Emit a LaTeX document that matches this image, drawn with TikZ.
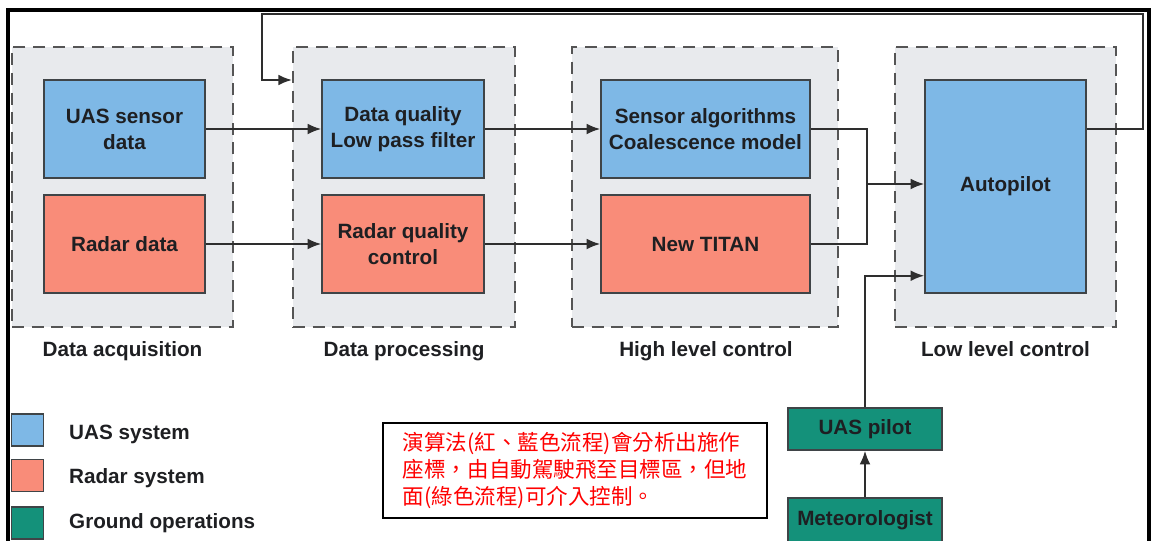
\documentclass[tikz,border=0pt]{standalone}
\usepackage{fontspec}
\setmainfont{Liberation Sans}
\newfontfamily\cjk{Noto Sans CJK TC}
\usetikzlibrary{positioning, arrows.meta}

\definecolor{uasblue}{HTML}{7EB8E6}
\definecolor{radarred}{HTML}{F98C79}
\definecolor{groundgreen}{HTML}{14917A}
\definecolor{grpgray}{HTML}{E8EAED}
\definecolor{grpline}{HTML}{555555}
\definecolor{boxline}{HTML}{3F4447}
\definecolor{wireline}{HTML}{2E2E2E}
\definecolor{txt}{HTML}{1E1F22}

\tikzset{
  grp/.style={draw=grpline, fill=grpgray, line width=1.4pt, dash pattern=on 8.5pt off 5.5pt,
    minimum height=7cm, inner sep=0pt},
  grplabel/.style={anchor=base},
  box/.style={draw=boxline, line width=1pt, inner sep=0pt, minimum height=2.45cm,
    align=center, text=txt},
  leg/.style={draw=boxline, line width=1pt, minimum size=0.8cm, inner sep=0pt},
  wire/.style={draw=wireline, line width=1.4pt},
  arr/.style={wire, -{Latex[length=0.34cm, width=0.27cm]}},
}

\begin{document}
\begin{tikzpicture}[x=0.025cm, y=-0.025cm, font=\fontsize{14.7}{18.5}\selectfont\bfseries, text=txt]
        \clip (0,0) rectangle (1152,540);
        \draw[line width=2.2pt] (8,10) rectangle (1149,600);

        % stages
        \node[grp, minimum width=5.525cm] (acq) at (122.5,187) {};
        \node[grp, minimum width=5.55cm] (proc) at (404,187) {};
        \node[grp, minimum width=6.65cm] (high) at (705,187) {};
        \node[grp, minimum width=5.525cm] (low) at (1005.5,187) {};
        \node[grplabel] (lacq) at (122.5,356) {Data acquisition};
        \node[grplabel] (lproc) at (404,356) {Data processing};
        \node[grplabel] (lhigh) at (706,356) {High level control};
        \node[grplabel] (llow) at (1005.5,356) {Low level control};

        \node[box, fill=uasblue, minimum width=4.025cm] (uas) at (124.5,129) {UAS sensor\\data};
        \node[box, fill=radarred, minimum width=4.025cm] (radar) at (124.5,244) {Radar data};
        \node[box, fill=uasblue, minimum width=4.05cm] (dq) at (403,129) {Data quality\\Low pass filter};
        \node[box, fill=radarred, minimum width=4.05cm] (rqc) at (403,244) {Radar quality\\control};
        \node[box, fill=uasblue, minimum width=5.225cm] (salg) at (705.5,129) {Sensor algorithms\\Coalescence model};
        \node[box, fill=radarred, minimum width=5.225cm] (titan) at (705.5,244) {New TITAN};
        \node[box, fill=uasblue, minimum width=4.025cm, minimum height=5.325cm] (auto) at (1005.5,186.5) {Autopilot};
        \node[box, fill=groundgreen, minimum width=3.85cm, minimum height=1.05cm] (pilot) at (865,429) {UAS pilot};
        \node[box, fill=groundgreen, minimum width=3.85cm, minimum height=1.1cm] (meteo) at (865,520) {Meteorologist};

        \coordinate (join) at (867,184);

        \draw[arr] (uas) -- (dq);
        \draw[arr] (radar) -- (rqc);
        \draw[arr] (dq) -- (salg);
        \draw[arr] (rqc) -- (titan);
        \draw[wire] (salg) -| (join);
        \draw[wire] (titan) -| (join);
        \draw[arr] (join) -- (join -| auto.west);
        \draw[arr] (pilot) |- ([yshift=0.45cm]auto.south west);
        \draw[arr] (meteo) -- (pilot);
        \draw[arr] (auto.east |- dq) -| (1143,14) -| (262,80) -- (proc.west |- 0,80);

        % legend
        \node[leg, fill=uasblue] (kuas) at (27.5,430) {};
        \node[leg, fill=radarred] (kradar) at (27.5,475.5) {};
        \node[leg, fill=groundgreen] (kground) at (27.5,523) {};
        \node[right=5mm of kuas, yshift=-1.2mm] (tuas) {UAS system};
        \node[right=5mm of kradar, yshift=-0.6mm] (tradar) {Radar system};
        \node[right=5mm of kground] (tground) {Ground operations};

        \node[draw=black, line width=1.1pt, text=red, font=\cjk\fontsize{15.3}{19.5}\selectfont,
          align=left, text width=8.6cm, minimum width=9.6cm, minimum height=2.375cm, inner sep=0pt]
          (note) at (575,470.5) {演算法(紅、藍色流程)會分析出施作\\座標，由自動駕駛飛至目標區，但地\\面(綠色流程)可介入控制。};
\end{tikzpicture}
\end{document}
